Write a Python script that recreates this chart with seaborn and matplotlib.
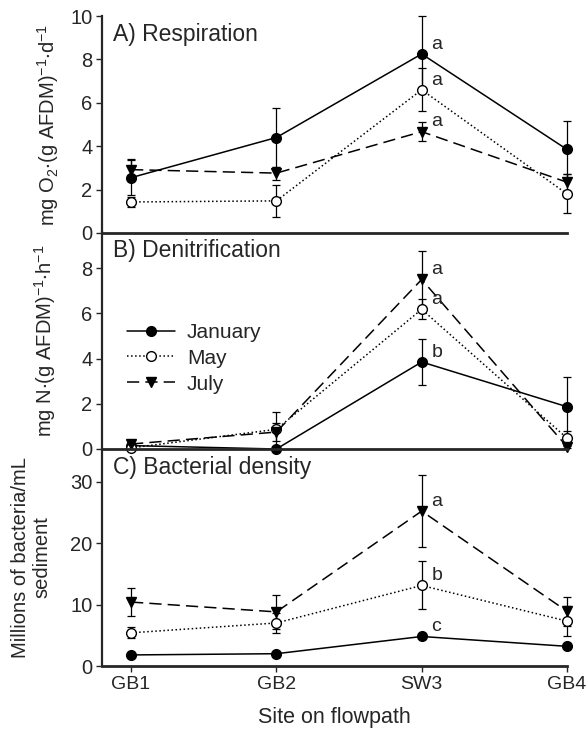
import numpy as np
import pandas as pd
import matplotlib
matplotlib.use("Agg")
import matplotlib.pyplot as plt
import seaborn as sns

# ---------------- data ----------------
sites = ["GB1", "GB2", "SW3", "GB4"]
months = ["January", "May", "July"]

resp_jan = [2.55, 4.40, 8.25, 3.85]
resp_jan_err = [0.80, 1.35, 1.75, 1.30]
resp_may = [1.43, 1.48, 6.60, 1.80]
resp_may_err = [0.25, 0.72, 1.00, 0.90]
resp_jul = [2.92, 2.76, 4.67, 2.34]
resp_jul_err = [0.50, 0.30, 0.45, 0.40]
resp_letters = ["a", "a", "a"]

den_jan = [0.15, 0.00, 3.85, 1.87]
den_jan_err = [0.05, 0.00, 1.00, 1.33]
den_may = [0.05, 0.87, 6.18, 0.48]
den_may_err = [0.05, 0.78, 0.45, 0.30]
den_jul = [0.22, 0.75, 7.50, 0.10]
den_jul_err = [0.05, 0.40, 1.24, 0.05]
den_letters = ["b", "a", "a"]

bac_jan = [1.8, 2.0, 4.8, 3.2]
bac_jan_err = [0.2, 0.2, 0.3, 0.3]
bac_may = [5.4, 7.0, 13.1, 7.3]
bac_may_err = [0.9, 1.7, 3.9, 2.4]
bac_jul = [10.4, 8.8, 25.2, 8.9]
bac_jul_err = [2.3, 2.8, 5.8, 2.4]
bac_letters = ["c", "b", "a"]

panel_titles = ["A) Respiration", "B) Denitrification", "C) Bacterial density"]
ylabels = [r"mg O$_2$$\cdot$(g AFDM)$^{-1}$$\cdot$d$^{-1}$",
           r"mg N$\cdot$(g AFDM)$^{-1}$$\cdot$h$^{-1}$",
           "Millions of bacteria/mL\nsediment"]
yticks = [[0, 2, 4, 6, 8, 10], [0, 2, 4, 6, 8], [0, 10, 20, 30]]
ylims = [(0, 10), (0, 9.6), (0, 35.3)]
xlabel = "Site on flowpath"

# ---------------- style ----------------
sns.set_style("ticks")
plt.rcParams["font.family"] = ["Liberation Sans", "DejaVu Sans"]
plt.rcParams["mathtext.fontset"] = "custom"
plt.rcParams["mathtext.rm"] = "Liberation Sans"
plt.rcParams["mathtext.it"] = "Liberation Sans"
plt.rcParams["mathtext.default"] = "regular"

styles = {
    "January": dict(marker="o", markerfacecolor="black", linestyle="-"),
    "May": dict(marker="o", markerfacecolor="white", linestyle=":"),
    "July": dict(marker="v", markerfacecolor="black", linestyle=(0, (8, 4))),
}

fig = plt.figure(figsize=(5.87, 7.29), dpi=100)
left, width = 102 / 587, 465 / 587
tops = [16, 232, 449]
h = 217

panels = [
    ([resp_jan, resp_may, resp_jul], [resp_jan_err, resp_may_err, resp_jul_err], resp_letters),
    ([den_jan, den_may, den_jul], [den_jan_err, den_may_err, den_jul_err], den_letters),
    ([bac_jan, bac_may, bac_jul], [bac_jan_err, bac_may_err, bac_jul_err], bac_letters),
]
label_x = [-0.088, -0.095, -0.108]

pos = np.arange(len(sites))
axes = []
for i, (vals, errs, letters) in enumerate(panels):
    bottom = 1 - (tops[i] + h) / 729
    ax = fig.add_axes([left, bottom, width, h / 729])
    ax.patch.set_visible(False)
    axes.append(ax)
    for m, v, e in zip(months, vals, errs):
        df = pd.DataFrame({"pos": pos, "val": v})
        ax.errorbar(pos, v, yerr=e, fmt="none", ecolor="black", elinewidth=0.9,
                    capsize=3, capthick=0.9, zorder=2)
        sns.lineplot(data=df, x="pos", y="val", ax=ax, color="black", linewidth=1.1,
                     markersize=7, markeredgecolor="black", markeredgewidth=1.0,
                     label=m, zorder=3, **styles[m])
    for art in list(ax.lines) + list(ax.collections):
        art.set_clip_on(False)
    # significance letters at SW3 (order Jan, May, Jul)
    for m, v, L in zip(months, vals, letters):
        ax.annotate(L, xy=(2, v[2]), xytext=(7, 7), textcoords="offset points",
                    fontsize=14, ha="left", va="center")
    ax.set_xlim(-0.2, 3.0)
    ax.set_ylim(*ylims[i])
    ax.set_yticks(yticks[i])
    ax.tick_params(axis="y", labelsize=14.5, length=4, width=1, direction="out", pad=3)
    ax.set_ylabel(ylabels[i], fontsize=14.5)
    ax.text(0.024, 0.915, panel_titles[i], transform=ax.transAxes, fontsize=16.5,
            ha="left", va="center")
    sns.despine(ax=ax)
    ax.spines["left"].set_linewidth(1.6)
    ax.spines["bottom"].set_linewidth(2.0)
    ax.spines["bottom"].set_zorder(5)
    if i < 2:
        ax.set_xticks(pos)
        ax.tick_params(axis="x", length=0, labelbottom=False)
        ax.set_xlabel("")
    else:
        ax.set_xticks(pos, sites)
        ax.tick_params(axis="x", labelsize=14, length=4, width=1)
        ax.set_xlabel(xlabel, fontsize=15.5, labelpad=10)
    if i == 1:
        ax.legend(loc="upper left", bbox_to_anchor=(0.035, 0.62), frameon=False,
                  fontsize=15, handlelength=2.3, handletextpad=0.6,
                  labelspacing=0.33, borderaxespad=0)
    else:
        lg = ax.get_legend()
        if lg is not None:
            lg.remove()
    ax.yaxis.set_label_coords(label_x[i], 0.5)

fig.savefig("out.png", dpi=100)
